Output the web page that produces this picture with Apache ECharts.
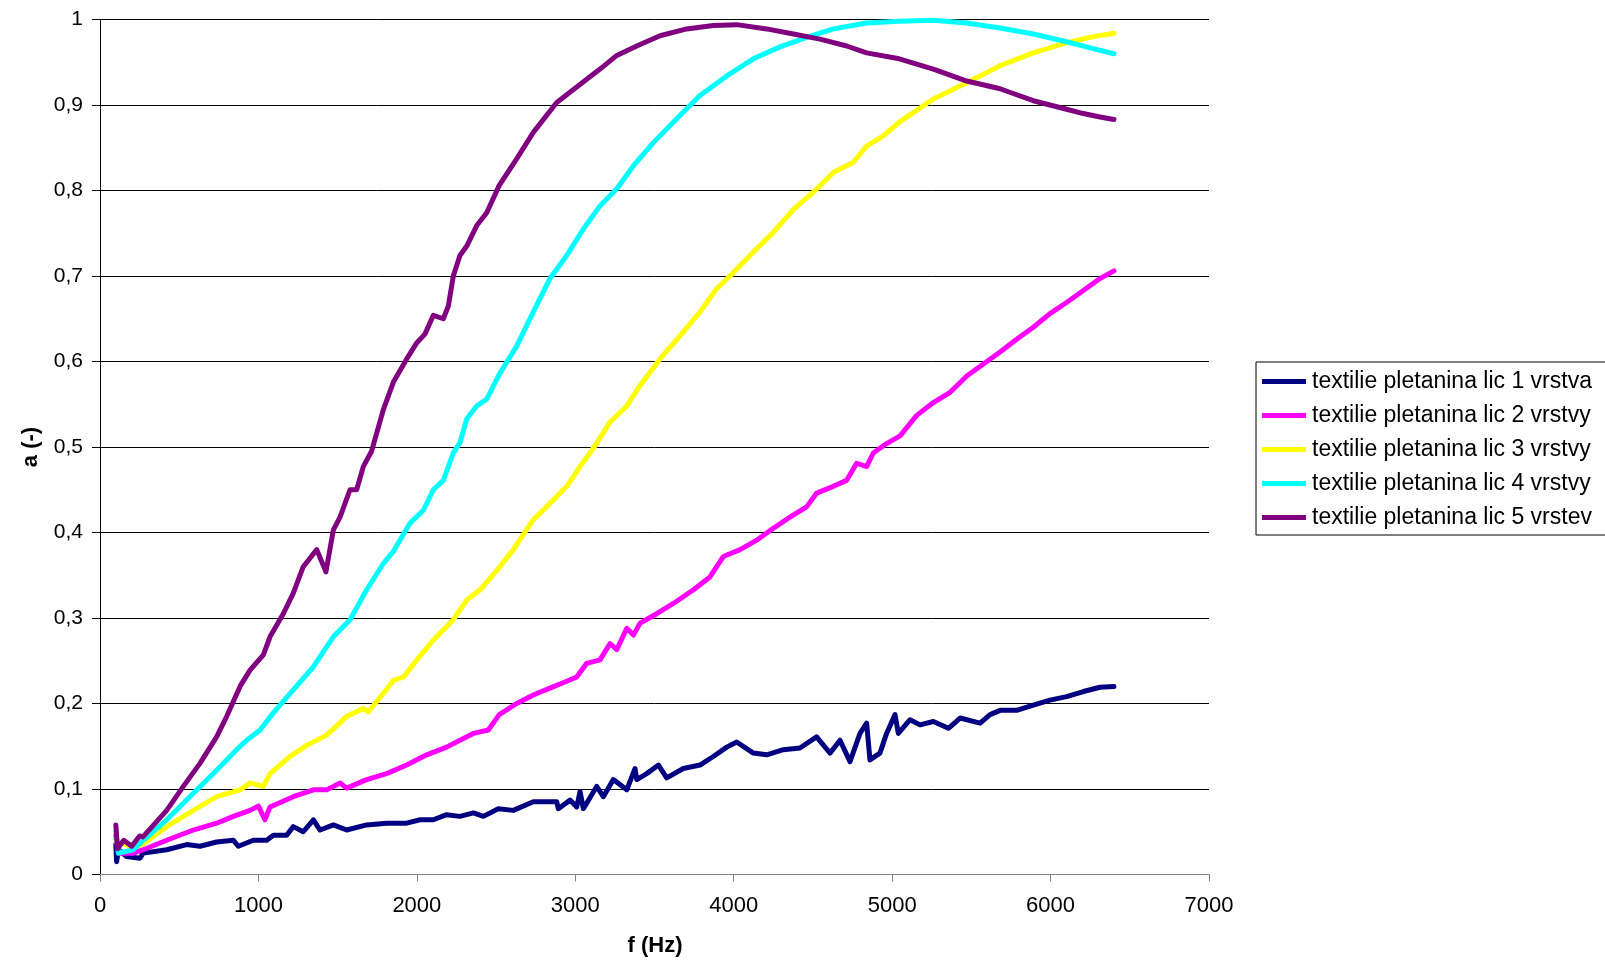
<!DOCTYPE html>
<html>
<head>
<meta charset="utf-8">
<script src="https://cdn.jsdelivr.net/npm/echarts@6/dist/echarts.min.js"></script>
<style>
html,body{margin:0;padding:0;background:#fff;}
#chart{width:1605px;height:968px;}
</style>
</head>
<body>
<div id="chart"></div>
<script>
// ---- data (frequency Hz / absorption coefficient) ----
const seriesNames = [
  'textilie pletanina lic 1 vrstva',
  'textilie pletanina lic 2 vrstvy',
  'textilie pletanina lic 3 vrstvy',
  'textilie pletanina lic 4 vrstvy',
  'textilie pletanina lic 5 vrstev'
];
const xTicks = [0,1000,2000,3000,4000,5000,6000,7000];
const yTicks = [0,0.1,0.2,0.3,0.4,0.5,0.6,0.7,0.8,0.9,1];

const f1 = [100,105,116,168,252,273,421,547,631,736,842,873,968,1052,1094,1178,1220,1283,1347,1389,1473,1557,1683,1809,1936,2020,2104,2188,2272,2357,2420,2514,2609,2735,2883,2893,2967,3009,3030,3051,3135,3177,3240,3325,3377,3388,3451,3525,3577,3682,3787,3871,3956,4019,4124,4208,4313,4418,4523,4608,4671,4734,4797,4839,4860,4923,4965,5018,5039,5113,5176,5260,5355,5429,5555,5618,5681,5786,5891,5996,6101,6207,6312,6400];
const a1 = [0.035,0.015,0.029,0.021,0.019,0.025,0.029,0.035,0.033,0.038,0.040,0.033,0.040,0.040,0.046,0.046,0.056,0.050,0.064,0.052,0.058,0.052,0.058,0.060,0.060,0.064,0.064,0.070,0.068,0.072,0.068,0.077,0.075,0.085,0.085,0.077,0.087,0.079,0.097,0.077,0.103,0.091,0.111,0.099,0.124,0.111,0.118,0.128,0.113,0.124,0.128,0.138,0.149,0.155,0.142,0.140,0.146,0.148,0.161,0.142,0.157,0.132,0.165,0.177,0.134,0.142,0.165,0.187,0.165,0.181,0.175,0.179,0.171,0.183,0.177,0.187,0.192,0.192,0.198,0.204,0.208,0.214,0.219,0.220];

const f2 = [100,116,210,273,421,589,736,842,947,1000,1041,1073,1220,1347,1431,1515,1557,1683,1809,1936,2062,2188,2272,2357,2451,2520,2630,2735,2840,2946,3009,3072,3156,3219,3262,3325,3367,3409,3514,3619,3746,3850,3935,4040,4145,4250,4355,4460,4523,4629,4713,4776,4839,4881,4965,5050,5155,5260,5366,5471,5576,5681,5786,5891,5996,6101,6207,6312,6400];
const a2 = [0.045,0.025,0.025,0.029,0.040,0.052,0.060,0.068,0.075,0.080,0.064,0.079,0.091,0.099,0.099,0.107,0.101,0.111,0.118,0.128,0.140,0.149,0.157,0.165,0.169,0.187,0.200,0.210,0.218,0.226,0.231,0.247,0.251,0.270,0.263,0.288,0.280,0.294,0.305,0.317,0.333,0.348,0.372,0.380,0.391,0.405,0.418,0.430,0.446,0.454,0.461,0.481,0.477,0.493,0.504,0.513,0.537,0.552,0.564,0.583,0.597,0.611,0.626,0.640,0.656,0.669,0.683,0.697,0.706];

const f3 = [100,210,273,421,589,736,884,947,1031,1073,1199,1304,1431,1557,1662,1693,1789,1852,1915,2000,2104,2230,2315,2399,2520,2609,2735,2840,2946,3030,3130,3219,3325,3409,3535,3661,3787,3892,3998,4124,4250,4377,4503,4629,4755,4839,4944,5045,5260,5471,5681,5891,6101,6270,6400];
const a3 = [0.040,0.031,0.036,0.056,0.075,0.091,0.099,0.107,0.103,0.118,0.138,0.151,0.163,0.185,0.194,0.190,0.212,0.227,0.231,0.251,0.274,0.298,0.321,0.333,0.359,0.380,0.415,0.434,0.454,0.477,0.503,0.529,0.548,0.572,0.603,0.630,0.658,0.685,0.704,0.728,0.751,0.778,0.798,0.821,0.833,0.852,0.864,0.880,0.907,0.926,0.946,0.961,0.973,0.980,0.984];

const f4 = [100,116,210,273,421,589,736,862,926,1010,1094,1220,1347,1473,1578,1683,1789,1852,1957,2041,2104,2167,2230,2272,2315,2378,2441,2520,2630,2735,2840,2946,3051,3156,3262,3367,3493,3640,3787,3956,4124,4292,4460,4629,4839,5045,5260,5471,5681,5891,6101,6270,6400];
const a4 = [0.050,0.025,0.029,0.040,0.064,0.095,0.122,0.146,0.157,0.169,0.189,0.216,0.243,0.278,0.298,0.333,0.364,0.378,0.411,0.426,0.450,0.461,0.493,0.505,0.533,0.548,0.556,0.585,0.618,0.658,0.697,0.724,0.755,0.782,0.802,0.829,0.856,0.884,0.911,0.934,0.954,0.968,0.979,0.989,0.996,0.998,0.999,0.996,0.990,0.983,0.974,0.966,0.960];

const f5 = [100,110,150,200,250,271,421,526,631,736,800,884,947,1031,1073,1157,1220,1283,1368,1426,1473,1515,1578,1620,1662,1714,1789,1852,1936,2000,2051,2104,2167,2199,2230,2272,2315,2378,2441,2520,2630,2735,2883,3009,3156,3262,3388,3535,3703,3871,4019,4208,4377,4545,4713,4839,5045,5260,5471,5681,5786,5891,5996,6101,6207,6312,6400];
const a5 = [0.058,0.030,0.040,0.033,0.045,0.044,0.075,0.103,0.130,0.161,0.185,0.220,0.239,0.257,0.278,0.305,0.329,0.360,0.380,0.354,0.403,0.418,0.450,0.450,0.477,0.495,0.544,0.576,0.603,0.622,0.632,0.654,0.650,0.665,0.700,0.724,0.735,0.759,0.774,0.806,0.837,0.868,0.903,0.921,0.942,0.958,0.969,0.981,0.989,0.993,0.994,0.989,0.983,0.977,0.969,0.961,0.954,0.942,0.928,0.919,0.912,0.905,0.900,0.895,0.890,0.886,0.883];

const colors = ['#000080','#FF00FF','#FFFF00','#00FFFF','#800080'];
const freqs = [f1,f2,f3,f4,f5];
const vals = [a1,a2,a3,a4,a5];

// ---- chart ----
const FONT = "'Liberation Sans', Arial, sans-serif";
const chart = echarts.init(document.getElementById('chart'), null, {renderer:'canvas'});
const series = seriesNames.map((name, i) => ({
  name: name,
  type: 'line',
  data: freqs[i].map((f, j) => [f, vals[i][j]]),
  showSymbol: false,
  symbol: 'none',
  lineStyle: {color: colors[i], width: 5, cap: 'round', join: 'round'},
  itemStyle: {color: colors[i]},
  emphasis: {disabled: true},
  z: 2 + i
}));

chart.setOption({
  animation: false,
  backgroundColor: '#ffffff',
  grid: {left: 100, right: 396, top: 19.5, bottom: 93.5, containLabel: false},
  xAxis: {
    type: 'value',
    min: xTicks[0], max: xTicks[xTicks.length-1], interval: 1000,
    axisLine: {show: true, lineStyle: {color: '#808080', width: 1}},
    axisTick: {show: true, inside: false, length: 7, lineStyle: {color: '#808080'}},
    axisLabel: {color: '#000', fontFamily: FONT, fontSize: 22, margin: 20,
      formatter: v => String(Math.round(v))},
    splitLine: {show: false}
  },
  yAxis: {
    type: 'value',
    min: yTicks[0], max: yTicks[yTicks.length-1], interval: 0.1,
    axisLine: {show: true, lineStyle: {color: '#000', width: 1}},
    axisTick: {show: true, inside: false, length: 8, lineStyle: {color: '#000'}},
    axisLabel: {color: '#000', fontFamily: FONT, fontSize: 21, margin: 17,
      formatter: v => String(+v.toFixed(1)).replace('.', ',')},
    splitLine: {show: true, lineStyle: {color: '#000', width: 1}}
  },
  legend: {
    orient: 'vertical',
    left: 1256, top: 362,
    padding: [8, 16, 6, 6],
    itemGap: 11,
    itemWidth: 44, itemHeight: 5,
    icon: 'rect',
    borderColor: '#000', borderWidth: 1,
    backgroundColor: '#fff',
    textStyle: {color: '#000', fontFamily: FONT, fontSize: 23, lineHeight: 22, padding: [0,0,0,1]},
    data: seriesNames.map((n, i) => ({name: n, itemStyle: {color: colors[i]}}))
  },
  graphic: [
    {type: 'text', x: 31, y: 447, rotation: Math.PI/2,
     style: {text: 'a (-)', font: "bold 22px 'Liberation Sans', Arial, sans-serif", fill: '#000', textAlign: 'center', textVerticalAlign: 'middle'}},
    {type: 'text', x: 655, y: 946,
     style: {text: 'f (Hz)', font: "bold 22px 'Liberation Sans', Arial, sans-serif", fill: '#000', textAlign: 'center', textVerticalAlign: 'middle'}}
  ],
  series: series
});
</script>
</body>
</html>
